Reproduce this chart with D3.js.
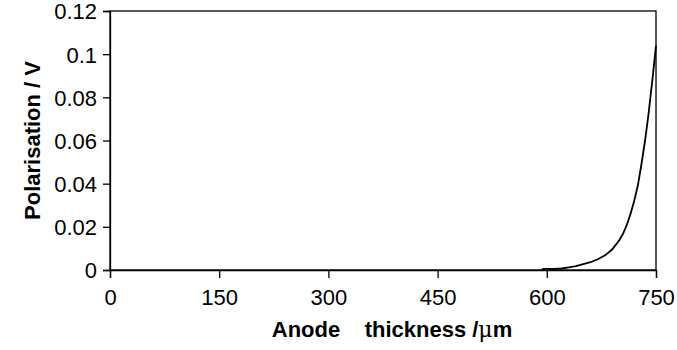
<!DOCTYPE html>
<html>
<head>
<meta charset="utf-8">
<script src="https://cdn.jsdelivr.net/npm/d3@7"></script>
<style>
  body { margin: 0; background: #fff; }
  svg { display: block; font-family: "Liberation Sans", Arial, sans-serif; }
</style>
</head>
<body>
<figure id="chart" style="margin:0"></figure>
<script>
// values
const thickness = [593, 600, 610, 620, 630, 640, 650, 660, 670, 680, 690, 700, 705, 710, 715, 720, 725, 730, 735, 740, 745, 750];
const polarisation = [0.0004, 0.0005, 0.0005, 0.0007, 0.0012, 0.0018, 0.0027, 0.0036, 0.0050, 0.0068, 0.0096, 0.0140, 0.0170, 0.0210, 0.0260, 0.0320, 0.0390, 0.0490, 0.0600, 0.0730, 0.0880, 0.1040];
const xTicks = [0, 150, 300, 450, 600, 750];
const yTicks = [0, 0.02, 0.04, 0.06, 0.08, 0.1, 0.12];

const width = 677, height = 350;
const margin = { top: 11, right: 21, bottom: 80, left: 110 };
const innerW = width - margin.left - margin.right;
const innerH = height - margin.top - margin.bottom;

const svg = d3.select('figure#chart')
  .append('svg')
  .attr('width', width)
  .attr('height', height);

const g = svg.append('g')
  .attr('transform', 'translate(' + margin.left + ',' + margin.top + ')');

const x = d3.scaleLinear().domain([0, 750]).range([0, innerW]);
const y = d3.scaleLinear().domain([0, 0.12]).range([innerH, 0]);

// frame
g.append('rect')
  .attr('x', 0).attr('y', 0)
  .attr('width', innerW).attr('height', innerH)
  .attr('fill', 'none')
  .attr('stroke', '#000')
  .attr('stroke-width', 1.3);

const xAxis = g.append('g')
  .attr('transform', 'translate(0,' + innerH + ')')
  .call(d3.axisBottom(x).tickValues(xTicks).tickSize(8).tickPadding(11).tickFormat(d3.format('d')));

const yAxis = g.append('g')
  .call(d3.axisLeft(y).tickValues(yTicks).tickSize(7).tickPadding(6).tickFormat(d => d === 0 ? '0' : String(+d.toFixed(2))));

[xAxis, yAxis].forEach(a => {
  a.select('.domain').attr('stroke-width', 1.3);
  a.selectAll('line').attr('stroke-width', 1.3);
  a.selectAll('text')
    .attr('font-family', '"Liberation Sans", Arial, sans-serif')
    .attr('font-size', 22)
    .attr('fill', '#000');
});
yAxis.selectAll('text').attr('dy', '0.36em');

const line = d3.line()
  .x((d, i) => x(thickness[i]))
  .y(d => y(d))
  .curve(d3.curveLinear);

g.append('path')
  .datum(polarisation)
  .attr('fill', 'none')
  .attr('stroke', '#000')
  .attr('stroke-width', 1.8)
  .attr('d', line);

// axis titles
const xt = svg.append('text')
  .attr('x', margin.left + innerW / 2 + 9)
  .attr('y', 337)
  .attr('text-anchor', 'middle')
  .attr('font-size', 22)
  .attr('font-weight', 'bold')
  .attr('xml:space', 'preserve');
xt.append('tspan').text('Anode    thickness /');
xt.append('tspan').attr('font-weight', 'normal').attr('font-family', '"DejaVu Serif", serif').text('μ');
xt.append('tspan').text('m');

svg.append('text')
  .attr('transform', 'translate(40,' + (margin.top + innerH / 2) + ') rotate(-90)')
  .attr('text-anchor', 'middle')
  .attr('font-size', 22)
  .attr('font-weight', 'bold')
  .text('Polarisation / V');
</script>
</body>
</html>
